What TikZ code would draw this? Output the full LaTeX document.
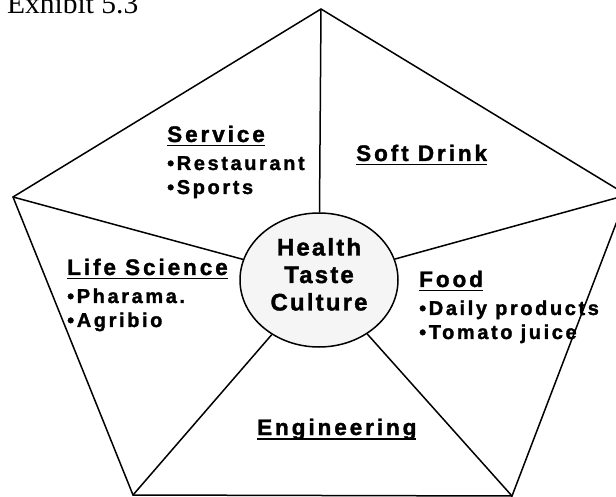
\documentclass[tikz,border=0pt]{standalone}
\usepackage{fontspec}
\setmainfont{Liberation Serif}
\newfontfamily\labfont{Liberation Sans}[UprightFont=*-Bold, BoldFont=*-Bold, LetterSpace=13, FakeBold=1.5]
\newfontfamily\corefont{Liberation Sans}[UprightFont=*-Bold, BoldFont=*-Bold, LetterSpace=9, FakeBold=1.5]
\usetikzlibrary{shapes.geometric}
\newsavebox\hdbox
\newcommand\hdline[1]{\sbox\hdbox{\fontsize{22.5}{24}\selectfont #1}\rlap{\rule[-4.5pt]{\wd\hdbox}{1.4pt}}\usebox\hdbox}
\tikzset{
  edge/.style={line width=1.5pt, line join=miter},
  blk/.style={anchor=base west, inner sep=0pt, font={\labfont\bfseries\fontsize{20}{24}\selectfont}},
  core/.style={ellipse, draw, fill=black!4, line width=1.5pt, minimum width=158pt, minimum height=134pt, inner sep=0pt, font={\corefont\bfseries\fontsize{24}{27.5}\selectfont}}
}
\begin{document}
\begin{tikzpicture}[x=1pt,y=-1pt]
\useasboundingbox (0,0) rectangle (616,497);
\clip (0,0) rectangle (616,497);
% pentagon vertices
\coordinate (T) at (321,9);
\coordinate (R) at (627,195);
\coordinate (BR) at (512,496);
\coordinate (BL) at (133,495);
\coordinate (L) at (13,197);
\node[core] (core) at (319,280) {\begin{tabular}{@{}c@{}}Health\\Taste\\Culture\rule[-13.25pt]{0pt}{1pt}\end{tabular}};
\draw[edge] (T) -- (R) -- (BR) -- (BL) -- (L) -- cycle;
\foreach \v in {T,R,BR,BL,L} \draw[edge] (\v) -- (core);
\node[anchor=base west, inner sep=0pt, font=\fontsize{29.5}{34}\selectfont] (title) at (7,14) {Exhibit 5.3};
\node[blk] (service) at (167,142) {\begin{tabular}[t]{@{}l@{}}\hdline{Service}\\[4pt] •Restaurant\\ •Sports\end{tabular}};
\node[blk] (soft) at (356,161) {\hdline{Soft Drink}};
\node[blk] (life) at (67,275) {\begin{tabular}[t]{@{}l@{}}\hdline{Life Science}\\[4pt] •Pharama.\\ •Agribio\end{tabular}};
\node[blk] (food) at (419,287) {\begin{tabular}[t]{@{}l@{}}\hdline{Food}\\[4pt] •Daily products\\ •Tomato juice\end{tabular}};
\node[blk] (eng) at (257,435) {\hdline{Engineering}};
\end{tikzpicture}
\end{document}
